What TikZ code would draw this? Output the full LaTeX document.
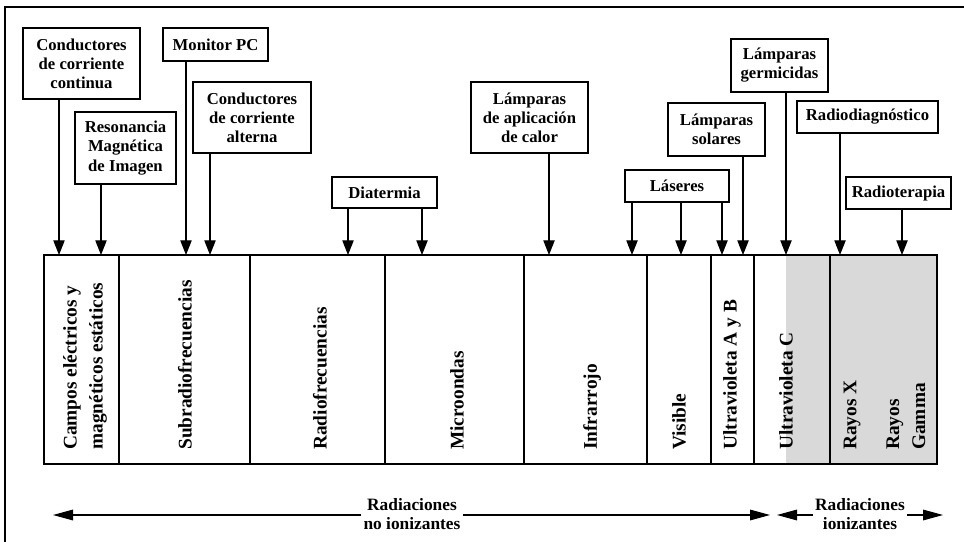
\documentclass[tikz,border=0pt]{standalone}
\usepackage{fontspec}
\setmainfont{Liberation Serif}
\usetikzlibrary{arrows.meta}

\tikzset{
  caja/.style={draw, line width=0.8pt, align=center, inner sep=0pt,
    font=\fontsize{12.5}{14.3}\selectfont\bfseries},
  banda/.style={rotate=90, anchor=west, align=left, inner sep=0pt,
    font=\fontsize{14.5}{19.5}\selectfont\bfseries},
  rotulo/.style={fill=white, align=center, inner sep=2pt,
    font=\fontsize{13}{14}\selectfont\bfseries},
  flecha/.style={line width=0.8pt, -{Triangle[length=11pt,width=8.5pt]}},
  rango/.style={line width=0.8pt, {Triangle[length=15pt,width=8pt]}-{Triangle[length=15pt,width=8pt]}}
}

\begin{document}
\begin{tikzpicture}[line cap=butt,line join=miter,x=0.75pt,y=-0.75pt]
\useasboundingbox (0,0) rectangle (964,542);

% marco
\draw[line width=1.1pt] (5,542) -- (5,7) -- (964,7);

% barra del espectro
\fill[black!15] (786,255) rectangle (937,464);
\node[draw, line width=0.8pt, minimum width=669.75pt, minimum height=156.75pt, inner sep=0pt] (bar) at (490.5,359.5) {};
\foreach \x in {119,250,385,524,647,711,754,830}
  \draw[line width=0.8pt] (\x,255) -- (\x,464);

\node[banda] (b1) at (85,450) {Campos eléctricos y\\magnéticos estáticos};
\node[banda] (b2) at (185,450) {Subradiofrecuencias};
\node[banda] (b3) at (320,450) {Radiofrecuencias};
\node[banda] (b4) at (457,450) {Microondas};
\node[banda] (b5) at (592,450) {Infrarrojo};
\node[banda] (b6) at (679,450) {Visible};
\node[banda] (b7) at (732,450) {Ultravioleta A y B};
\node[banda] (b8) at (786,450) {Ultravioleta C};
\node[banda] (b9) at (852,450) {Rayos X};
\node[banda] (b10) at (906,450) {Rayos\\Gamma};

% fuentes
\node[caja, minimum width=87.75pt, minimum height=53.25pt] (cc) at (81.5,63.5) {Conductores\\de corriente\\continua};
\node[caja, minimum width=75.75pt, minimum height=54pt] (rmi) at (125.5,148) {Resonancia\\Magnética\\de Imagen};
\node[caja, minimum width=78.75pt, minimum height=24.75pt] (mpc) at (215.5,44.5) {Monitor PC};
\node[caja, minimum width=88.5pt, minimum height=53.25pt] (ca) at (252,117.5) {Conductores\\de corriente\\alterna};
\node[caja, minimum width=78.75pt, minimum height=23.25pt] (dia) at (384.5,192.5) {Diatermia};
\node[caja, minimum width=87.75pt, minimum height=53.25pt] (lac) at (529.5,117.5) {Lámparas\\de aplicación\\de calor};
\node[caja, minimum width=78pt, minimum height=24pt] (las) at (677,186) {Láseres};
\node[caja, minimum width=72.75pt, minimum height=39.75pt] (lso) at (716.5,129.5) {Lámparas\\solares};
\node[caja, minimum width=72.75pt, minimum height=39.75pt] (lge) at (779.5,65.5) {Lámparas\\germicidas};
\node[caja, minimum width=105.75pt, minimum height=24pt] (rdg) at (867.5,117) {Radiodiagnóstico};
\node[caja, minimum width=78.75pt, minimum height=24pt] (rte) at (898.5,193) {Radioterapia};

% flechas hacia la barra
\foreach \x/\src in {59/cc,101/rmi,186/mpc,210/ca,348/dia,422/dia,549/lac,
    632/las,681/las,722/las,743/lso,786/lge,840/rdg,902/rte}{
  \coordinate (t\x) at (\x,255);
  \draw[flecha] (t\x |- \src.south) -- (t\x);
}

% rangos
\coordinate (n1) at (53,515);
\coordinate (n2) at (770,515);
\coordinate (i1) at (777,515);
\coordinate (i2) at (943,515);
\draw[rango] (n1) -- (n2);
\draw[rango] (i1) -- (i2);
\node[rotulo] (noion) at (412,514) {Radiaciones\\no ionizantes};
\node[rotulo] (ion) at (860,514) {Radiaciones\\ionizantes};

\end{tikzpicture}
\end{document}
